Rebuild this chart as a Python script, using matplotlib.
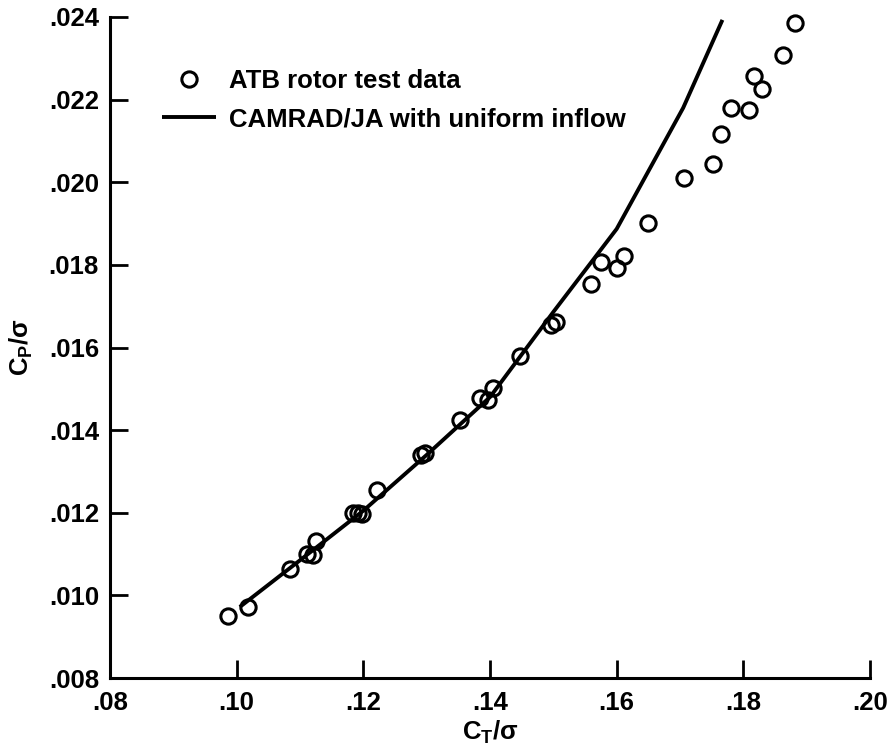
import matplotlib
matplotlib.use("Agg")
import matplotlib.pyplot as plt

# ATB rotor test data
ct_test = [.0987, .1018, .1084, .1111, .1121, .1126, .1184, .1192, .1198, .1221,
           .1291, .1297, .1352, .1384, .1397, .1405, .1447, .1497, .1505,
           .1560, .1576, .1600, .1611, .1650, .1707, .1752, .1765, .1780,
           .1809, .1817, .1830, .1863, .1882]
cp_test = [.00951, .00971, .01063, .01099, .01097, .01132, .01200, .01200, .01198, .01256,
           .01340, .01345, .01425, .01477, .01473, .01503, .01579, .01654, .01662,
           .01754, .01806, .01792, .01822, .01901, .02010, .02043, .02118, .02180,
           .02174, .02258, .02226, .02308, .02385]

# CAMRAD/JA with uniform inflow
ct_camrad = [.1005, .110, .120, .130, .140, .150, .160, .1705, .1767]
cp_camrad = [.00972, .01085, .01205, .01340, .01480, .01686, .01887, .02180, .02393]

xticks = [.08, .10, .12, .14, .16, .18, .20]
xtick_labels = [".08", ".10", ".12", ".14", ".16", ".18", ".20"]
yticks = [.008, .010, .012, .014, .016, .018, .020, .022, .024]
ytick_labels = [".008", ".010", ".012", ".014", ".016", ".018", ".020", ".022", ".024"]

plt.rcParams['font.family'] = ['Liberation Sans', 'DejaVu Sans']
plt.rcParams['font.weight'] = 'bold'
plt.rcParams['mathtext.default'] = 'regular'

W, H = 895, 753
fig = plt.figure(figsize=(W / 100, H / 100), dpi=100)
ax = fig.add_axes([110 / W, (H - 678) / H, 760 / W, 661 / H])

ax.plot(ct_camrad, cp_camrad, color='black', lw=2.8, solid_capstyle='butt',
        label='CAMRAD/JA with uniform inflow')
ax.plot(ct_test, cp_test, linestyle='none', marker='o', markersize=11,
        markerfacecolor='none', markeredgecolor='black', markeredgewidth=2.2,
        clip_on=False, label='ATB rotor test data')

ax.set_xlim(.08, .20)
ax.set_ylim(.008, .024)
ax.set_xticks(xticks)
ax.set_xticklabels(xtick_labels)
ax.set_yticks(yticks)
ax.set_yticklabels(ytick_labels)
ax.tick_params(direction='in', length=13, width=2, labelsize=18.5)
ax.tick_params(axis='x', pad=9)
ax.tick_params(axis='y', pad=8)
for lbl in ax.get_xticklabels() + ax.get_yticklabels():
    lbl.set_fontweight('bold')

for side in ['top', 'right']:
    ax.spines[side].set_visible(False)
for side in ['left', 'bottom']:
    ax.spines[side].set_linewidth(2.2)

ax.set_xlabel(r'$\mathregular{C_T/}$σ', fontsize=18.5, fontweight='bold', labelpad=3)
ax.set_ylabel(r'$\mathregular{C_P/}$σ', fontsize=18.5, fontweight='bold', labelpad=10)

handles, labels = ax.get_legend_handles_labels()
leg = fig.legend(handles[::-1], labels[::-1], loc='upper left',
                 bbox_to_anchor=(162 / W, (H - 69) / H), frameon=False,
                 borderpad=0, borderaxespad=0,
                 handlelength=2.1, handletextpad=0.5, labelspacing=0.55,
                 prop={'weight': 'bold', 'size': 18.5})

fig.savefig("out.png", dpi=100)
